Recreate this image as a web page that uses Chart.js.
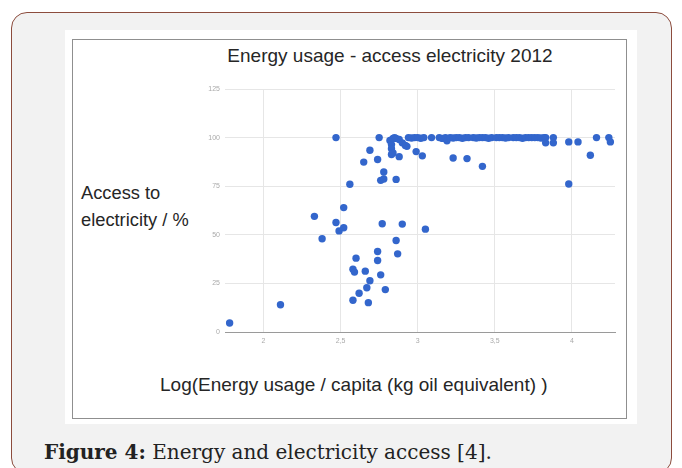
<!DOCTYPE html>
<html>
<head>
<meta charset="utf-8">
<script src="https://cdn.jsdelivr.net/npm/chart.js@4.4.1/dist/chart.umd.min.js"></script>
<style>
  html, body { margin: 0; padding: 0; }
  body { width: 682px; height: 468px; overflow: hidden; background: #fff; position: relative; }
  #panel { position: absolute; left: 11px; top: 12px; width: 659px; height: 460px;
           border: 1.5px solid #8c4c3d; border-radius: 16px; background: #f2f2f2; }
  #sheet { position: absolute; left: 65px; top: 30px; width: 572px; height: 394px; background: #fff; }
  #frame { position: absolute; left: 72px; top: 39px; width: 553px; height: 378px;
           border: 1px solid #8f8f8f; background: #fff; }
  .lbl { position: absolute; font-family: "Liberation Sans", Arial, sans-serif; color: #262626; white-space: nowrap; }
  #title { left: 0; width: 780px; text-align: center; top: 44px; font-size: 19px; line-height: 24px; }
  #ylab { left: 81px; top: 179px; font-size: 18.3px; line-height: 27px; }
  #xlab { left: 160px; top: 373px; font-size: 19px; line-height: 24px; }
  #caption { position: absolute; left: 44px; top: 440px; font-family: "DejaVu Serif", "Liberation Serif", serif;
             font-size: 20px; line-height: 24px; color: #222; white-space: nowrap; }
  #chart { position: absolute; left: 0; top: 0; }
</style>
</head>
<body>
<div id="panel"></div>
<div id="sheet"></div>
<div id="frame"></div>
<div class="lbl" id="title">Energy usage - access electricity 2012</div>
<div class="lbl" id="ylab">Access to<br>electricity / %</div>
<div class="lbl" id="xlab">Log(Energy usage / capita (kg oil equivalent) )</div>
<div id="caption"><b>Figure 4:</b> Energy and electricity access [4].</div>
<canvas id="chart" width="682" height="468"></canvas>
<script>
// log10 of energy use per capita, one entry per country
const energyLog = [
  1.78, 2.11, 2.33, 2.38, 2.47, 2.49, 2.52, 2.52, 2.47, 2.56,
  2.58, 2.58, 2.59, 2.60, 2.62, 2.65, 2.66, 2.67, 2.68, 2.69,
  2.69, 2.74, 2.74, 2.74, 2.75, 2.76, 2.76, 2.77, 2.78, 2.78,
  2.79, 2.86, 2.86, 2.87, 2.90, 3.05,
  2.82, 2.84, 2.86, 2.88, 2.90, 2.93, 2.83, 2.83, 2.84, 2.83,
  2.88, 2.99, 3.03, 2.85, 2.92,
  2.94, 2.96, 2.98, 3.00, 3.02, 3.04, 3.09,
  3.14, 3.16, 3.18, 3.19, 3.21, 3.23, 3.25, 3.27, 3.29, 3.31,
  3.33, 3.36, 3.38, 3.40, 3.42, 3.44, 3.46, 3.48, 3.51, 3.53,
  3.55, 3.57, 3.59, 3.62, 3.64, 3.66, 3.68, 3.70, 3.72, 3.74,
  3.76, 3.78, 3.80, 3.82,
  3.23, 3.32, 3.42,
  3.83, 3.83, 3.88, 3.88, 3.98, 4.04, 4.16, 4.12, 3.98, 4.24, 4.25
];
// share of population with access to electricity (%)
const accessPct = [
  4.6, 14.0, 59.5, 48.0, 56.3, 52.0, 53.6, 64.0, 100, 76.0,
  16.3, 32.3, 30.8, 38.0, 19.9, 87.4, 31.3, 22.8, 15.1, 26.4,
  93.5, 41.4, 36.8, 88.7, 100, 29.4, 78.0, 55.7, 78.7, 82.3,
  21.8, 47.1, 78.5, 40.2, 55.5, 52.9,
  98.5, 99.6, 99.6, 99.0, 97.3, 95.5, 96.4, 94.3, 92.1, 91.3,
  90.2, 92.8, 90.6, 100, 96.0,
  100, 99.8, 100, 100, 99.7, 100, 100,
  100, 99.6, 100, 98.4, 100, 99.8, 100, 100, 99.7, 100,
  100, 100, 99.8, 100, 100, 100, 99.7, 100, 100, 100,
  100, 99.8, 100, 100, 100, 100, 99.7, 100, 100, 100,
  100, 100, 99.8, 100,
  89.5, 89.2, 85.2,
  100, 97.3, 100, 97.3, 97.8, 97.8, 100, 90.9, 76.1, 100, 97.8
];
const xTickValues = [2, 2.5, 3, 3.5, 4];
const yTickValues = [0, 25, 50, 75, 100, 125];

const points = energyLog.map((x, i) => ({ x: x, y: accessPct[i] }));
const tickFont = { family: "Liberation Sans, Arial, sans-serif", size: 7 };

new Chart(document.getElementById('chart'), {
  type: 'scatter',
  data: {
    datasets: [{
      data: points,
      backgroundColor: '#3366cc',
      borderWidth: 0,
      pointRadius: 3.7,
      pointHoverRadius: 3.7
    }]
  },
  options: {
    responsive: false,
    devicePixelRatio: 1,
    animation: false,
    events: [],
    layout: { padding: { left: 185, right: 67, top: 89, bottom: 106 } },
    plugins: { legend: { display: false }, tooltip: { enabled: false } },
    scales: {
      x: {
        type: 'linear',
        min: 1.75,
        max: 4.28,
        afterBuildTicks: s => { s.ticks = xTickValues.map(v => ({ value: v })); },
        afterFit: s => { s.height = 30; },
        ticks: {
          callback: v => String(v).replace('.', ','),
          font: tickFont, color: '#aaaaaa', padding: 5, maxRotation: 0, autoSkip: false
        },
        grid: { color: '#e6e6e6', drawTicks: false },
        border: { color: '#9a9a9a', width: 1 }
      },
      y: {
        type: 'linear',
        min: 0,
        max: 125,
        afterBuildTicks: s => { s.ticks = yTickValues.map(v => ({ value: v })); },
        afterFit: s => { s.width = 40; },
        ticks: { font: tickFont, color: '#aaaaaa', padding: 5, autoSkip: false },
        grid: { color: '#e6e6e6', drawTicks: false },
        border: { display: false }
      }
    }
  }
});
</script>
</body>
</html>
